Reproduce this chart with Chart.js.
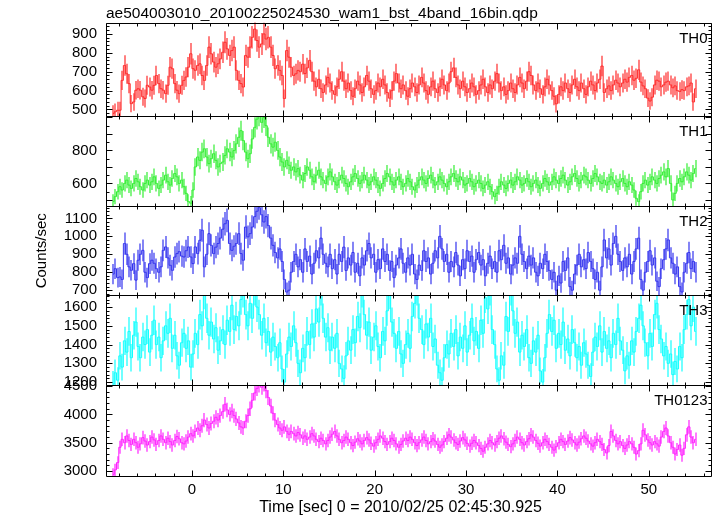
<!DOCTYPE html>
<html><head><meta charset="utf-8">
<script src="https://cdn.jsdelivr.net/npm/chart.js@4.4.0/dist/chart.umd.min.js"></script>
<style>html,body{margin:0;padding:0;background:#fff}#wrap{position:relative;width:717px;height:516px}</style>
</head><body><div id="wrap"><canvas id="c" width="717" height="516"></canvas></div>
<script>
const TITLE = 'ae504003010_20100225024530_wam1_bst_4band_16bin.qdp';
const X_LABEL = 'Time [sec] 0 = 2010/02/25 02:45:30.925';
const Y_LABEL = 'Counts/sec';
const BANDS = ['TH0', 'TH1', 'TH2', 'TH3', 'TH0123'];
const T_START = -8.75;   // start of first bin (s)
const BIN = 0.25;        // bin width (s)
const X_TICKS = [0, 10, 20, 30, 40, 50];
const Y_TICKS = [[500,600,700,800,900],[600,800],[700,800,900,1000,1100],[1200,1300,1400,1500,1600],[3000,3500,4000,4500]];
const Y_MIN = [463, 461, 672, 1184, 2912];
const Y_MAX = [960, 1006, 1167, 1663, 4518];

const TH0 = [
479,488,496,496,654,733,689,637,531,540,602,610,602,567,558,628,
619,602,628,680,637,610,602,584,628,724,716,637,602,584,628,654,
672,724,795,716,707,733,742,680,654,733,830,795,751,724,742,768,
803,856,821,786,812,830,707,654,637,619,786,777,830,882,926,865,
830,847,900,873,882,830,786,716,733,707,680,558,812,777,724,680,
689,707,700,740,690,720,760,700,650,620,660,610,590,630,670,640,
600,580,620,660,700,650,610,640,600,570,610,650,630,590,620,680,
650,610,580,600,640,620,660,630,590,560,600,650,690,640,610,630,
600,570,610,640,620,590,630,670,640,600,580,620,650,610,590,620,
660,630,600,640,700,720,670,630,610,650,620,590,610,640,620,580,
600,630,660,620,590,630,610,650,690,640,600,620,580,600,640,610,
590,630,670,640,610,650,700,680,630,600,640,610,580,620,660,630,
600,570,530,580,620,600,640,610,590,630,660,620,600,640,610,580,
620,650,630,600,640,660,730,590,610,625,600,630,655,640,620,640,
660,645,670,680,655,665,710,645,625,610,560,545,565,630,655,650,
620,630,645,650,630,615,625,600,595,605,600,620,625,640,540,610];
const TH1 = [
490,520,550,580,560,600,620,590,570,600,630,610,580,560,600,620,
590,610,640,600,570,590,620,650,610,590,630,660,640,600,620,580,
540,490,480,560,700,760,740,790,810,760,720,750,780,740,700,720,
730,770,810,790,760,800,840,880,920,860,790,750,780,870,940,990,
1010,970,1000,950,880,840,820,850,800,760,730,700,740,710,680,700,
670,690,650,620,660,700,680,640,610,650,680,640,620,600,640,670,
640,610,590,620,650,630,600,580,610,640,660,630,600,620,650,620,
590,610,640,620,590,570,600,630,660,640,610,590,620,640,610,580,
600,630,610,580,560,590,620,640,620,600,630,650,620,590,610,640,
620,600,580,610,640,660,630,610,640,620,590,600,630,610,580,600,
620,600,570,590,610,580,550,520,540,580,610,590,570,600,620,590,
610,640,620,590,600,630,610,580,600,620,590,570,600,630,610,590,
610,640,620,600,630,650,620,590,610,640,660,630,600,620,650,640,
620,600,630,660,640,610,600,620,590,610,640,620,600,580,610,630,
600,580,610,590,560,510,490,550,600,620,590,610,640,620,600,630,
650,670,640,690,600,500,540,600,630,610,640,670,650,620,660,690];
const TH2 = [
790,820,770,774,760,960,900,830,811,848,756,867,900,922,800,770,
848,867,850,820,800,830,922,941,880,839,811,885,904,915,890,885,
920,941,885,848,941,904,978,1034,830,900,1015,950,904,940,960,990,
1040,1070,1089,960,922,945,960,1015,904,867,1052,997,1015,1052,1110,1140,
1160,1120,1080,1110,1060,990,950,910,880,930,860,760,690,700,800,860,
900,830,870,800,930,860,890,790,850,920,880,990,900,850,830,900,
820,870,790,900,860,940,810,880,840,910,800,850,780,880,840,920,
960,880,900,800,870,820,930,860,900,810,860,770,840,880,930,850,
800,880,840,900,790,760,840,810,920,860,880,790,850,920,880,1000,
930,860,900,800,860,830,910,840,780,870,820,920,860,890,800,870,
910,840,870,780,850,890,820,860,800,920,870,950,850,880,790,840,
880,850,1000,900,860,820,890,840,880,800,780,850,820,900,860,810,
760,800,700,780,740,860,810,880,720,700,790,840,900,830,870,820,
910,860,820,760,800,700,830,980,880,930,840,960,1000,900,860,810,
880,830,900,790,860,930,990,760,700,800,860,920,840,880,750,720,
820,870,930,980,880,850,790,830,720,690,800,850,910,820,860,800];
const TH3 = [
1190,1250,1210,1340,1280,1420,1360,1470,1330,1450,1520,1390,1330,1440,1400,1480,
1360,1450,1530,1400,1440,1330,1420,1500,1460,1540,1380,1450,1340,1290,1410,1460,
1380,1420,1280,1350,1460,1400,1560,1500,1670,1540,1450,1520,1430,1490,1370,1420,
1480,1400,1530,1470,1610,1480,1550,1500,1640,1680,1560,1500,1620,1540,1690,1600,
1560,1450,1540,1410,1470,1360,1440,1390,1330,1410,1270,1200,1350,1440,1390,1500,
1410,1300,1250,1380,1330,1470,1400,1510,1440,1590,1520,1690,1540,1440,1490,1370,
1440,1380,1460,1300,1270,1220,1340,1420,1370,1480,1410,1550,1490,1680,1560,1450,
1520,1370,1440,1500,1390,1330,1470,1420,1580,1670,1520,1460,1380,1470,1350,1300,
1400,1460,1380,1550,1620,1690,1540,1480,1400,1510,1440,1540,1390,1430,1290,1250,
1210,1330,1400,1350,1460,1390,1480,1340,1440,1380,1500,1360,1450,1540,1420,1470,
1380,1530,1460,1650,1590,1690,1480,1400,1270,1210,1340,1290,1550,1470,1690,1580,
1460,1520,1360,1450,1390,1480,1330,1300,1420,1360,1450,1260,1200,1330,1460,1560,
1470,1530,1380,1460,1400,1520,1370,1430,1340,1480,1410,1330,1390,1290,1410,1350,
1290,1230,1360,1440,1390,1500,1360,1470,1380,1420,1330,1460,1400,1540,1420,1370,
1260,1340,1290,1420,1360,1470,1540,1610,1500,1410,1340,1460,1390,1560,1620,1480,
1430,1340,1390,1300,1350,1240,1310,1270,1390,1330,1480,1560,1640,1500,1600,1470];
const TH0123 = [
2940,3020,3150,3420,3560,3500,3620,3540,3470,3560,3500,3420,3480,3590,3530,3460,
3520,3600,3550,3470,3540,3620,3560,3500,3580,3520,3460,3540,3610,3570,3500,3480,
3530,3600,3660,3620,3700,3760,3720,3800,3900,3820,3760,3840,3880,3950,3900,3980,
4050,4180,4080,4000,4060,3980,3920,3850,3780,3760,3880,3980,4100,4250,4380,4460,
4520,4480,4540,4420,4300,4150,4020,3900,3820,3760,3720,3780,3700,3650,3700,3660,
3620,3680,3640,3580,3620,3560,3600,3660,3620,3560,3520,3580,3540,3480,3540,3600,
3650,3700,3620,3560,3500,3540,3600,3560,3500,3450,3510,3570,3530,3480,3540,3590,
3550,3490,3440,3500,3560,3620,3580,3520,3470,3520,3580,3540,3480,3420,3470,3530,
3580,3540,3600,3560,3500,3450,3500,3550,3600,3540,3480,3520,3570,3530,3470,3420,
3460,3520,3580,3640,3600,3550,3500,3470,3530,3590,3550,3490,3440,3490,3540,3500,
3450,3400,3350,3420,3480,3540,3500,3460,3520,3580,3620,3570,3510,3470,3430,3480,
3540,3600,3560,3500,3460,3520,3570,3640,3600,3540,3490,3440,3500,3560,3520,3470,
3420,3370,3430,3500,3560,3520,3470,3530,3590,3550,3500,3460,3510,3570,3620,3580,
3530,3480,3440,3500,3560,3520,3470,3380,3320,3450,3700,3620,3540,3480,3520,3450,
3400,3460,3520,3480,3420,3300,3360,3480,3720,3640,3550,3500,3460,3520,3480,3440,
3600,3700,3760,3620,3500,3420,3300,3380,3460,3280,3400,3640,3780,3600,3500,3560];

const SERIES = [TH0, TH1, TH2, TH3, TH0123];
const COLORS = ['#ff2a2a', '#33ee33', '#3333ee', '#11ffff', '#ff22ff'];
const Y_MINOR = [20, 50, 20, 20, 100];
const X_MINOR = 2;
const PANEL_WEIGHTS = [94, 90, 89, 90, 91];
const FONT = "'Liberation Sans', Arial, Helvetica, sans-serif";

const binCenter = k => T_START + BIN * (k + 0.5);

const datasets = SERIES.map((arr, i) => ({
  label: BANDS[i],
  data: arr.map((v, k) => ({x: binCenter(k), y: v})),
  yAxisID: 'y' + i,
  borderColor: COLORS[i],
  borderWidth: 1,
  pointRadius: 0,
  stepped: 'middle',
  fill: false,
  tension: 0
}));

const scales = {
  x: {
    type: 'linear', position: 'bottom', min: -9.4, max: 56.8,
    afterBuildTicks: s => { s.ticks = X_TICKS.map(v => ({value: v})); },
    afterFit: s => { s.height = 40; },
    grid: {display: false, drawTicks: false}, border: {display: false},
    ticks: {color: '#000', font: {family: FONT, size: 15}, padding: 5, maxRotation: 0},
    title: {display: false}
  }
};
SERIES.forEach((arr, i) => {
  scales['y' + i] = {
    type: 'linear', position: 'left', stack: 'panels', stackWeight: PANEL_WEIGHTS[i], weight: 10 - i,
    min: Y_MIN[i], max: Y_MAX[i],
    afterBuildTicks: s => { s.ticks = Y_TICKS[i].map(v => ({value: v})); },
    afterFit: s => { s.width = 106; },
    grid: {display: false, drawTicks: false}, border: {display: false},
    ticks: {color: '#000', font: {family: FONT, size: 15}, padding: 9, autoSkip: false, callback: v => String(v)},
    title: i === 2 ? {display: true, text: Y_LABEL, color: '#000', font: {family: FONT, size: 15}, padding: {top: 33, bottom: 0}} : {display: false}
  };
});

const panelPlugin = {
  id: 'panels',
  beforeDatasetDraw(chart, args) {
    const i = args.index, ys = chart.scales['y' + i], xs = chart.scales.x, a = chart.chartArea, ctx = chart.ctx;
    ctx.save(); ctx.beginPath(); ctx.rect(a.left, ys.top, a.right - a.left, ys.bottom - ys.top); ctx.clip();
    // error bars (Poisson error of a count rate in a BIN-second bin)
    ctx.save();
    ctx.globalAlpha = 1; ctx.setLineDash([]);
    ctx.strokeStyle = COLORS[i]; ctx.lineWidth = 1.2; ctx.beginPath();
    SERIES[i].forEach((v, k) => {
      const err = Math.sqrt(v / BIN);
      const px = Math.round(xs.getPixelForValue(binCenter(k)));
      ctx.moveTo(px, ys.getPixelForValue(v - err));
      ctx.lineTo(px, ys.getPixelForValue(v + err));
    });
    ctx.stroke();
    ctx.restore();
  },
  afterDatasetDraw(chart) {
    chart.ctx.restore();
  },
  afterDraw(chart) {
    const ctx = chart.ctx, a = chart.chartArea, xs = chart.scales.x;
    ctx.save();
    ctx.strokeStyle = '#000'; ctx.lineWidth = 1;
    const l = Math.round(a.left) + 0.5, r = Math.round(a.right) + 0.5;
    SERIES.forEach((arr, i) => {
      const ys = chart.scales['y' + i];
      const t = Math.round(ys.top) + 0.5, b = Math.round(ys.bottom) + 0.5;
      ctx.beginPath(); ctx.rect(l, t, r - l, b - t); ctx.stroke();
      ctx.beginPath();
      const step = Y_MINOR[i];
      for (let v = Math.ceil(Y_MIN[i] / step) * step; v <= Y_MAX[i]; v += step) {
        const py = Math.round(ys.getPixelForValue(v)) + 0.5;
        const major = Y_TICKS[i].includes(v) || (i === 1 && v % 100 === 0);
        const len = major ? 6 : 3;
        ctx.moveTo(l, py); ctx.lineTo(l + len, py);
        ctx.moveTo(r, py); ctx.lineTo(r - len, py);
      }
      for (let v = Math.ceil(xs.min / X_MINOR) * X_MINOR; v <= xs.max; v += X_MINOR) {
        const px = Math.round(xs.getPixelForValue(v)) + 0.5;
        const len = (v % 10 === 0) ? 6 : 3;
        ctx.moveTo(px, t); ctx.lineTo(px, t + len);
        ctx.moveTo(px, b); ctx.lineTo(px, b - len);
      }
      ctx.stroke();
      ctx.fillStyle = '#000'; ctx.font = '15px ' + FONT; ctx.textAlign = 'right'; ctx.textBaseline = 'middle';
      ctx.fillText(BANDS[i], r - 4, t + 15);
    });
    ctx.fillStyle = '#000'; ctx.font = '16px ' + FONT; ctx.textAlign = 'center'; ctx.textBaseline = 'middle';
    ctx.fillText(X_LABEL, (a.left + a.right) / 2 - 8, a.bottom + 32);
    ctx.restore();
  }
};

new Chart(document.getElementById('c'), {
  type: 'line',
  data: {datasets},
  options: {
    responsive: false, animation: false, events: [],
    layout: {padding: {left: 0, right: 6, top: 0, bottom: 0}},
    plugins: {
      legend: {display: false}, tooltip: {enabled: false},
      title: {display: true, text: TITLE, align: 'start', fullSize: false, color: '#000',
              font: {family: FONT, size: 15.5, weight: 'normal'}, padding: {top: 4, bottom: 0}}
    },
    scales
  },
  plugins: [panelPlugin]
});
</script></body></html>
